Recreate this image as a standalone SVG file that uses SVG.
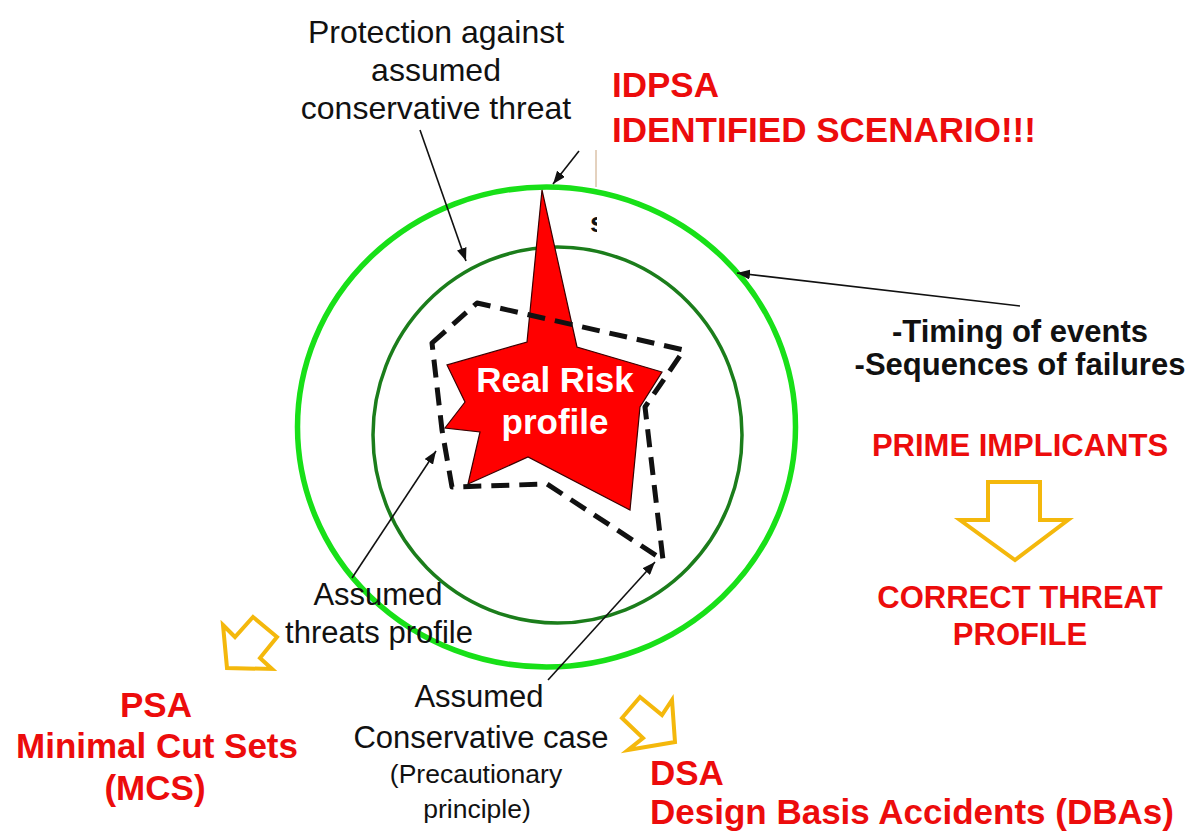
<svg xmlns="http://www.w3.org/2000/svg" width="1196" height="831" viewBox="0 0 1196 831">
<style>
.t{font-family:"Liberation Sans",Arial,sans-serif;fill:#111}
.b{font-family:"Liberation Sans",Arial,sans-serif;font-weight:bold}
.red{fill:#ec0c0c}
.con{stroke:#111;stroke-width:1.6;fill:none;marker-end:url(#ah)}
.ya{fill:#fff;stroke:#f4b80c;stroke-width:4;stroke-linejoin:miter}
</style>
<defs>
<marker id="ah" markerUnits="userSpaceOnUse" markerWidth="14" markerHeight="10" refX="13" refY="5" orient="auto">
<path d="M0,0 L13,5 L0,10 z" fill="#111"/>
</marker>
<clipPath id="sclip"><rect x="580" y="200" width="17" height="40"/></clipPath>
</defs>
<rect width="1196" height="831" fill="#fff"/>

<g id="outer-circle"><ellipse cx="546.5" cy="427" rx="249" ry="240" fill="none" stroke="#18e018" stroke-width="5.5"/></g>
<g id="inner-circle"><ellipse cx="557.5" cy="435" rx="184.5" ry="188" fill="none" stroke="#1b7d1b" stroke-width="3.5"/></g>

<g id="real-risk">
<polygon points="542,190 577,347 662,372 640,407 630,510 528,457 468,484 480,432 445,428 465,402 447,365 527,342" fill="#ff0000" stroke="#3a0000" stroke-width="1.2" stroke-linejoin="miter"/>
<text class="b" x="555" y="392" font-size="35" fill="#fff" text-anchor="middle">Real Risk</text>
<text class="b" x="555" y="434" font-size="35" fill="#fff" text-anchor="middle">profile</text>
</g>

<g id="assumed-threats-profile">
<polygon points="432,343 477,303 684,350 645,407 663,560 547,484 452,487 442,430" fill="none" stroke="#111" stroke-width="5" stroke-dasharray="18 10" stroke-linejoin="round"/>
</g>

<g id="artifact">
<line x1="596" y1="150" x2="596" y2="187" stroke="#c9a47f" stroke-width="1"/>
<text class="b" x="590" y="232" font-size="28" fill="#111" clip-path="url(#sclip)">s</text>
</g>

<g id="connectors">
<line class="con" x1="420" y1="130" x2="466" y2="261"/>
<line class="con" x1="579" y1="151" x2="553" y2="184"/>
<line class="con" x1="1020" y1="306" x2="737" y2="273"/>
<line class="con" x1="352" y1="578" x2="436" y2="451"/>
<line class="con" x1="548" y1="680" x2="655" y2="562"/>
</g>

<g id="label-protection">
<text class="t" x="436" y="43" font-size="32" text-anchor="middle">Protection against</text>
<text class="t" x="436" y="81" font-size="32" text-anchor="middle">assumed</text>
<text class="t" x="436" y="119" font-size="32" text-anchor="middle">conservative threat</text>
</g>

<g id="label-idpsa">
<text class="b red" x="612" y="97" font-size="35">IDPSA</text>
<text class="b red" x="612" y="142" font-size="35">IDENTIFIED SCENARIO!!!</text>
</g>

<g id="label-timing">
<text class="b" x="1020" y="342" font-size="31" fill="#111" text-anchor="middle">-Timing of events</text>
<text class="b" x="1020" y="375" font-size="31" fill="#111" text-anchor="middle">-Sequences of failures</text>
</g>

<g id="label-prime">
<text class="b red" x="1020" y="456" font-size="31" text-anchor="middle">PRIME IMPLICANTS</text>
<polygon class="ya" points="988,482 1040,482 1040,520 1068,520 1015,560 960,520 988,520"/>
<text class="b red" x="1020" y="608" font-size="31" text-anchor="middle">CORRECT THREAT</text>
<text class="b red" x="1020" y="645" font-size="31" text-anchor="middle">PROFILE</text>
</g>

<g id="label-threats">
<text class="t" x="378" y="605" font-size="31" text-anchor="middle">Assumed</text>
<text class="t" x="379" y="643" font-size="31" text-anchor="middle">threats profile</text>
</g>

<g id="label-conservative">
<text class="t" x="479" y="707" font-size="31" text-anchor="middle">Assumed</text>
<text class="t" x="481" y="748" font-size="31" text-anchor="middle">Conservative case</text>
<text class="t" x="476" y="783" font-size="26.5" text-anchor="middle">(Precautionary</text>
<text class="t" x="477" y="818" font-size="26.5" text-anchor="middle">principle)</text>
</g>

<g id="label-psa">
<polygon class="ya" points="223,625 235,637 253,617 277,637 260,658 272,669 227,668"/>
<text class="b red" x="156" y="717" font-size="35" text-anchor="middle">PSA</text>
<text class="b red" x="157" y="758" font-size="35" text-anchor="middle">Minimal Cut Sets</text>
<text class="b red" x="155" y="800" font-size="35" text-anchor="middle">(MCS)</text>
</g>

<g id="label-dsa">
<polygon class="ya" points="640,697 662,715 672,700 675,742 628,750 643,738 622,718"/>
<text class="b red" x="650" y="785" font-size="35">DSA</text>
<text class="b red" x="650" y="824" font-size="35">Design Basis Accidents (DBAs)</text>
</g>
</svg>
